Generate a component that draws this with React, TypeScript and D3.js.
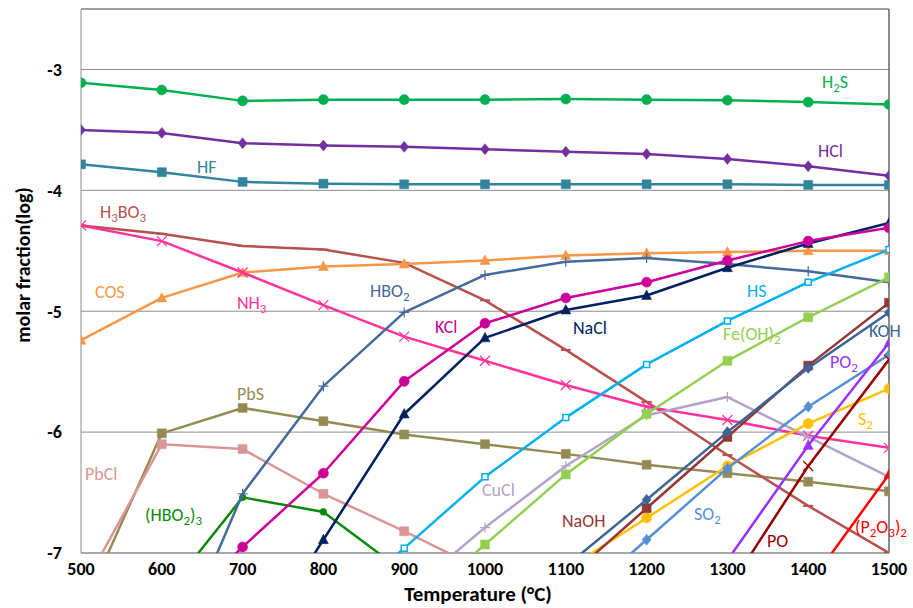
import React from "react";
import * as d3 from "d3";

const temps = [500, 600, 700, 800, 900, 1000, 1100, 1200, 1300, 1400, 1500];
const xTicks = [500, 600, 700, 800, 900, 1000, 1100, 1200, 1300, 1400, 1500];
const yTicks = [-3, -4, -5, -6, -7];
const N = null;

const H2S = [-3.11, -3.17, -3.26, -3.25, -3.25, -3.25, -3.245, -3.25, -3.255, -3.27, -3.29];
const HCl = [-3.5, -3.525, -3.61, -3.63, -3.64, -3.66, -3.68, -3.7, -3.74, -3.8, -3.88];
const HF = [-3.785, -3.85, -3.93, -3.945, -3.95, -3.95, -3.95, -3.95, -3.95, -3.955, -3.955];
const H3BO3 = [-4.29, -4.36, -4.46, -4.49, -4.6, -4.91, -5.32, -5.75, -6.19, -6.61, -7.0];
const COS = [-5.24, -4.89, -4.68, -4.63, -4.61, -4.58, -4.54, -4.52, -4.51, -4.5, -4.5];
const NH3 = [-4.29, -4.42, -4.68, -4.95, -5.21, -5.41, -5.61, -5.79, -5.9, -6.03, -6.13];
const HBO2 = [N, -8.07, -6.51, -5.62, -5.01, -4.7, -4.59, -4.56, -4.61, -4.67, -4.76];
const KCl = [N, -7.6, -6.95, -6.34, -5.58, -5.1, -4.89, -4.76, -4.58, -4.42, -4.31];
const NaCl = [N, N, -7.93, -6.89, -5.85, -5.22, -4.99, -4.87, -4.64, -4.44, -4.27];
const HS = [N, N, N, -7.55, -6.96, -6.37, -5.88, -5.44, -5.08, -4.76, -4.49];
const FeOH2 = [N, N, N, N, -7.51, -6.93, -6.35, -5.85, -5.41, -5.05, -4.72];
const CuCl = [N, N, N, N, -7.35, -6.79, -6.28, -5.86, -5.71, -6.04, -6.37];
const PbS = [-7.5, -6.01, -5.8, -5.91, -6.02, -6.1, -6.18, -6.27, -6.34, -6.41, -6.49];
const PbCl = [-7.32, -6.1, -6.14, -6.51, -6.82, -7.15, N, N, N, N, N];
const HBO2_3 = [N, -7.38, -6.54, -6.66, -7.16, N, N, N, N, N, N];
const NaOH = [N, N, N, N, N, N, -7.22, -6.63, -6.04, -5.45, -4.93];
const KOH = [N, N, N, N, N, N, -7.11, -6.56, -6.0, -5.47, -5.01];
const S2 = [N, N, N, N, N, N, -7.14, -6.71, -6.28, -5.93, -5.64];
const SO2 = [N, N, N, N, N, N, -7.48, -6.89, -6.3, -5.79, -5.36];
const PO2 = [N, N, N, N, N, N, N, N, -7.06, -6.11, -5.26];
const PO = [N, N, N, N, N, N, N, N, -7.31, -6.28, -5.4];
const P2O3_2 = [N, N, N, N, N, N, N, N, N, -7.27, -6.35];

type Seg = [string, boolean];
interface Series { values: (number | null)[]; color: string; marker: string; label: Seg[]; lx: number; ly: number; }

const series: Series[] = [
  { values: PbS, color: "#948A54", marker: "square", label: [["PbS", false]], lx: 237, ly: 400 },
  { values: PbCl, color: "#D99694", marker: "square", label: [["PbCl", false]], lx: 85, ly: 480 },
  { values: HBO2_3, color: "#0A8A0A", marker: "dot", label: [["(HBO", false], ["2", true], [")", false], ["3", true]], lx: 145, ly: 521 },
  { values: H3BO3, color: "#B7514E", marker: "dash", label: [["H", false], ["3", true], ["BO", false], ["3", true]], lx: 100, ly: 218 },
  { values: COS, color: "#F79646", marker: "triangle", label: [["COS", false]], lx: 95, ly: 298 },
  { values: NH3, color: "#FF3399", marker: "x", label: [["NH", false], ["3", true]], lx: 237, ly: 309 },
  { values: CuCl, color: "#B3A2C7", marker: "plus", label: [["CuCl", false]], lx: 482, ly: 496 },
  { values: HBO2, color: "#44699B", marker: "plus", label: [["HBO", false], ["2", true]], lx: 370, ly: 297 },
  { values: HS, color: "#00B0F0", marker: "smallsq", label: [["HS", false]], lx: 747, ly: 297 },
  { values: FeOH2, color: "#92D050", marker: "square", label: [["Fe(OH)", false], ["2", true]], lx: 723, ly: 340 },
  { values: S2, color: "#FFC000", marker: "circle", label: [["S", false], ["2", true]], lx: 858, ly: 425 },
  { values: SO2, color: "#558ED5", marker: "diamond", label: [["SO", false], ["2", true]], lx: 694, ly: 520 },
  { values: NaOH, color: "#953735", marker: "square", label: [["NaOH", false]], lx: 562, ly: 527 },
  { values: KOH, color: "#3B6596", marker: "diamond", label: [["KOH", false]], lx: 869, ly: 337 },
  { values: PO2, color: "#9B30FF", marker: "triangle", label: [["PO", false], ["2", true]], lx: 830, ly: 368 },
  { values: PO, color: "#990000", marker: "x", label: [["PO", false]], lx: 767, ly: 547 },
  { values: P2O3_2, color: "#FF0000", marker: "triangle", label: [["(P", false], ["2", true], ["O", false], ["3", true], [")", false], ["2", true]], lx: 855, ly: 533 },
  { values: NaCl, color: "#002060", marker: "triangle", label: [["NaCl", false]], lx: 573, ly: 334 },
  { values: KCl, color: "#CC0099", marker: "circle", label: [["KCl", false]], lx: 435, ly: 333 },
  { values: HF, color: "#31849B", marker: "square", label: [["HF", false]], lx: 197, ly: 173 },
  { values: HCl, color: "#7030A0", marker: "diamond", label: [["HCl", false]], lx: 818, ly: 157 },
  { values: H2S, color: "#00B050", marker: "circle", label: [["H", false], ["2", true], ["S", false]], lx: 822, ly: 88 },
];

const W = 913, H = 608;
const L = 81, R = 889, T = 9, B = 553;
const FONT = "Calibri, Carlito, Lato, 'Open Sans', sans-serif";

function markerPath(type: string): string {
  switch (type) {
    case "circle": return d3.symbol(d3.symbolCircle, 80)() as string;
    case "dot": return d3.symbol(d3.symbolCircle, 36)() as string;
    case "square": return "M-4.5,-4.5H4.5V4.5H-4.5Z";
    case "smallsq": return "M-3,-3H3V3H-3Z";
    case "diamond": return "M0,-5.5L4.5,0L0,5.5L-4.5,0Z";
    case "triangle": return "M0,-5.5L5,4L-5,4Z";
    default: return "";
  }
}

function Marker({ type, color, cx, cy }: { type: string; color: string; cx: number; cy: number }) {
  if (type === "x") {
    return <path d={`M${cx - 5},${cy - 5}L${cx + 5},${cy + 5}M${cx - 5},${cy + 5}L${cx + 5},${cy - 5}`} stroke={color} strokeWidth={1.2} fill="none" />;
  }
  if (type === "plus") {
    return <path d={`M${cx - 5},${cy}L${cx + 5},${cy}M${cx},${cy - 5}L${cx},${cy + 5}`} stroke={color} strokeWidth={1.2} fill="none" />;
  }
  if (type === "dash") {
    return <path d={`M${cx - 5},${cy}L${cx + 5},${cy}`} stroke={color} strokeWidth={2} fill="none" />;
  }
  if (type === "smallsq") {
    return <path d={markerPath(type)} transform={`translate(${cx},${cy})`} fill="#ffffff" stroke={color} strokeWidth={1.5} />;
  }
  return <path d={markerPath(type)} transform={`translate(${cx},${cy})`} fill={color} stroke={color} strokeWidth={0.5} />;
}

export default function App() {
  const x = d3.scaleLinear().domain([500, 1500]).range([L, R]);
  const y = d3.scaleLinear().domain([-7, -2.5]).range([B, T]);
  const line = d3.line<number | null>()
    .defined((d) => d != null)
    .x((_, i) => x(temps[i]))
    .y((d) => y(d as number));

  return (
    <svg width={W} height={H} style={{ position: "absolute", left: 0, top: 0, background: "#fff" }} fontFamily={FONT}>
      <defs>
        <clipPath id="plot"><rect x={L} y={T} width={R - L} height={B - T} /></clipPath>
      </defs>
      <rect x={0} y={0} width={W} height={H} fill="#fff" />
      {yTicks.map((t) => (
        <line key={t} x1={L} x2={R} y1={y(t)} y2={y(t)} stroke="#8C8C8C" strokeWidth={1} />
      ))}
      <line x1={L} x2={R} y1={T} y2={T} stroke="#404040" strokeWidth={1.2} />
      <line x1={R} x2={R} y1={T} y2={B} stroke="#404040" strokeWidth={1.2} />
      <line x1={L} x2={L} y1={T} y2={B} stroke="#8C8C8C" strokeWidth={1} />
      <line x1={L} x2={R} y1={B} y2={B} stroke="#8C8C8C" strokeWidth={1.2} />
      <g clipPath="url(#plot)">
        {series.map((s, si) => (
          <g key={si}>
            <path d={line(s.values) || ""} fill="none" stroke={s.color} strokeWidth={2.5} strokeLinejoin="round" />
            {s.values.map((v, i) => v == null ? null : (
              <Marker key={i} type={s.marker} color={s.color} cx={x(temps[i])} cy={y(v)} />
            ))}
          </g>
        ))}
      </g>
      {series.map((s, si) => (
        <text key={si} x={s.lx} y={s.ly} fill={s.color} fontSize={18}>
          {s.label.map(([t, sub], k) => (
            <tspan key={k} fontSize={sub ? 13 : 18} dy={sub ? 4 : (k > 0 && s.label[k - 1][1] ? -4 : 0)}>{t}</tspan>
          ))}
        </text>
      ))}
      {yTicks.map((t) => (
        <text key={t} x={62} y={y(t)} dy="0.35em" textAnchor="end" fontSize={18} fontWeight="bold" fill="#000">{t}</text>
      ))}
      {xTicks.map((t) => (
        <text key={t} x={x(t)} y={575} textAnchor="middle" fontSize={18} fontWeight="bold" fill="#000">{t}</text>
      ))}
      <text x={478} y={601} textAnchor="middle" fontSize={21} fontWeight="bold" fill="#000">Temperature (°C)</text>
      <text transform={`translate(30,265) rotate(-90)`} textAnchor="middle" fontSize={20} fontWeight="bold" fill="#000">molar fraction(log)</text>
    </svg>
  );
}
